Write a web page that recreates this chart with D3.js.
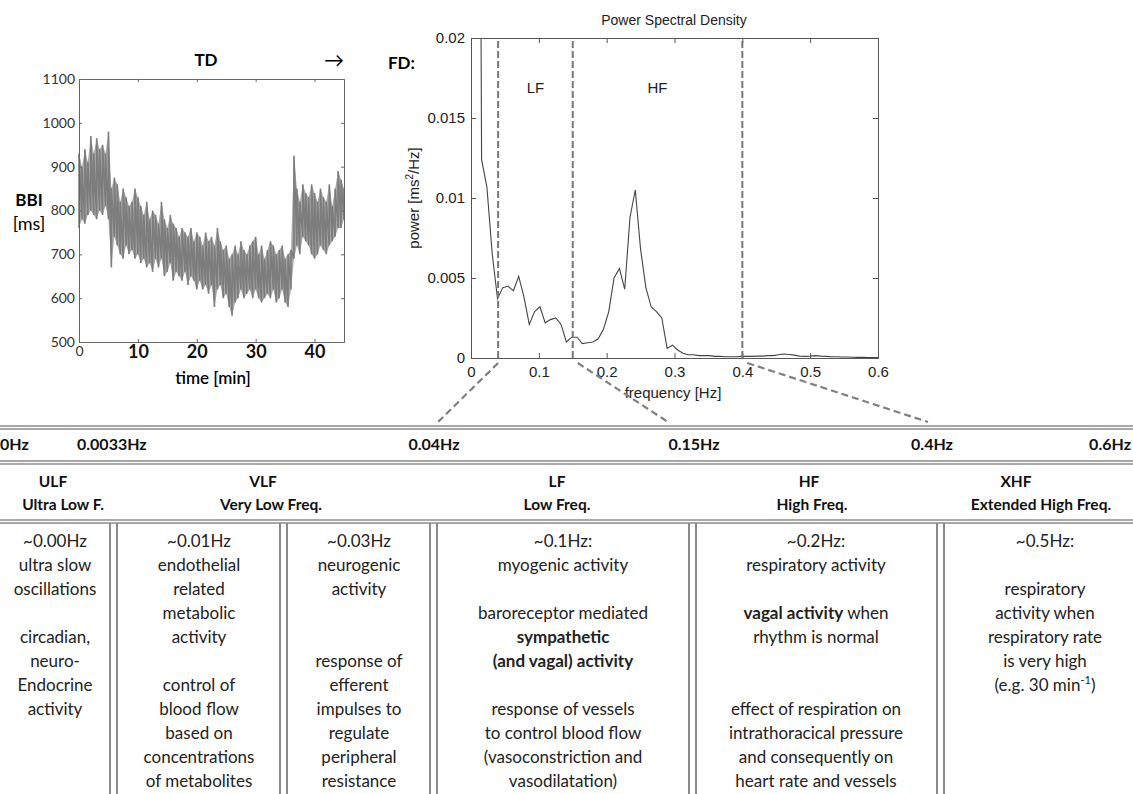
<!DOCTYPE html>
<html>
<head>
<meta charset="utf-8">
<script src="https://cdn.jsdelivr.net/npm/d3@7.9.0/dist/d3.min.js"></script>
<style>
  body { margin: 0; background: #fff; }
  svg { display: block; }
  .cal { font-family: Lato, "Open Sans", sans-serif; }
  .arial { font-family: "Liberation Sans", Arial, sans-serif; }
</style>
</head>
<body>
<svg id="chart" width="1133" height="794"></svg>
<script>
// ---- Time domain (BBI) data: min / max per half minute ----
const bbiTime = [0,0.5,1,1.5,2,2.5,3,3.5,4,4.5,5,5.5,6,6.5,7,7.5,8,8.5,9,9.5,10,10.5,11,11.5,12,12.5,13,13.5,14,14.5,
  15,15.5,16,16.5,17,17.5,18,18.5,19,19.5,20,20.5,21,21.5,22,22.5,23,23.5,24,24.5,25,25.5,26,26.5,27,27.5,28,28.5,29,29.5,
  30,30.5,31,31.5,32,32.5,33,33.5,34,34.5,35,35.5,36,36.5,37,37.5,38,38.5,39,39.5,40,40.5,41,41.5,42,42.5,43,43.5,44,44.5,45];
const bbiHigh = [930,900,940,910,970,930,965,940,950,930,980,850,875,860,820,850,830,810,820,850,830,810,790,820,780,800,790,770,820,780,
  760,790,770,760,740,760,750,740,760,730,750,740,720,750,730,740,720,760,730,710,720,690,700,720,700,730,710,700,720,730,
  740,700,720,690,710,730,720,700,710,720,690,700,710,925,850,820,860,840,830,860,840,820,850,830,820,860,810,850,890,870,850];
const bbiLow = [760,780,770,790,800,790,780,800,790,810,780,670,740,720,700,690,720,700,710,690,700,680,690,670,680,660,690,670,690,650,
  660,680,640,660,650,640,660,630,650,640,620,640,620,630,610,630,580,620,630,600,610,580,560,590,600,620,600,610,620,600,
  620,600,590,600,610,600,620,590,600,620,590,580,620,690,720,700,740,730,720,700,690,700,720,710,700,720,730,740,760,760,780];

// ---- Power spectral density ----
const psdFreq = [0.0078,0.0156,0.0234,0.0313,0.0391,0.0469,0.0547,0.0625,0.0703,0.0781,0.0859,0.0938,0.1016,0.1094,0.1172,0.125,
  0.1328,0.1406,0.1484,0.1563,0.1641,0.1719,0.1797,0.1875,0.1953,0.2031,0.2109,0.2188,0.2266,0.2344,0.2422,0.25,
  0.2578,0.2656,0.2734,0.2813,0.2891,0.2969,0.3047,0.3125,0.3203,0.3281,0.3359,0.3438,0.3516,0.3594,0.3672,0.375,
  0.3828,0.3906,0.3984,0.4063,0.4141,0.4219,0.4297,0.4375,0.4453,0.4531,0.4609,0.4688,0.4766,0.4844,0.4922,0.5,
  0.5078,0.5156,0.5234,0.5313,0.5391,0.5469,0.5547,0.5625,0.5703,0.5781,0.5859,0.5938,0.6016];
const psdPower = [0.09,0.0124,0.0107,0.0065,0.0037,0.0044,0.0045,0.0042,0.0051,0.0038,0.0021,0.0029,0.0032,0.0022,0.0024,0.0025,
  0.0021,0.0010,0.0013,0.0013,0.0009,0.00095,0.0010,0.0012,0.0018,0.0029,0.0050,0.0056,0.0043,0.0088,0.0105,0.0068,
  0.0044,0.0032,0.0029,0.0025,0.0006,0.0008,0.0005,0.0003,0.0002,0.0002,0.00015,0.00015,0.00015,0.0001,0.0001,0.00008,
  0.00008,0.00008,0.0001,0.0001,0.0001,0.00012,0.00012,0.00015,0.00015,0.0002,0.00025,0.00022,0.00018,0.00012,0.0001,0.00012,
  0.00015,0.00012,0.0001,0.00008,0.00008,0.00006,0.00006,0.00005,0.00004,0.00004,0.00003,0.00003,0.00003];
const bandLimits = [0.04, 0.15, 0.4];           // dashed lines in the PSD
const psdBandLabels = [["LF", 0.095], ["HF", 0.275]];

// ---- Table contents ----
const edgeLabels = ["0Hz", "0.0033Hz", "0.04Hz", "0.15Hz", "0.4Hz", "0.6Hz"];
const bandNames = ["ULF", "VLF", "LF", "HF", "XHF"];
const bandLongNames = ["Ultra Low F.", "Very Low Freq.", "Low Freq.", "High Freq.", "Extended High Freq."];
const ulfText = ["~0.00Hz", "ultra slow", "oscillations", "", "circadian,", "neuro-", "Endocrine", "activity"];
const vlfEndoText = ["~0.01Hz", "endothelial", "related", "metabolic", "activity", "", "control of", "blood flow",
  "based on", "concentrations", "of metabolites"];
const vlfNeuroText = ["~0.03Hz", "neurogenic", "activity", "", "", "response of", "efferent", "impulses to",
  "regulate", "peripheral", "resistance"];
const lfText = ["~0.1Hz:", "myogenic activity", "", "baroreceptor mediated", "**sympathetic**",
  "**(and vagal) activity**", "", "response of vessels", "to control blood flow", "(vasoconstriction and", "vasodilatation)"];
const hfText = ["~0.2Hz:", "respiratory activity", "", "**vagal activity** when", "rhythm is normal", "", "", "effect of respiration on",
  "intrathoracical pressure", "and consequently on", "heart rate and vessels"];
const xhfText = ["~0.5Hz:", "", "respiratory", "activity when", "respiratory rate", "is very high", "(e.g. 30 min^-1)"];
const cellTexts = [ulfText, vlfEndoText, vlfNeuroText, lfText, hfText, xhfText];

const svg = d3.select("#chart");
const grey = "#8a8a8a";

// ================= TD plot =================
const tdX = d3.scaleLinear().domain([0, 45]).range([79, 344]);
const tdY = d3.scaleLinear().domain([500, 1100]).range([342, 79]);
const td = svg.append("g").attr("class", "cal");

// light envelope between min and max, then a darker zig-zag for the beat-to-beat trace
td.append("path")
  .datum(bbiTime.map((t, i) => [t, bbiLow[i], bbiHigh[i]]))
  .attr("d", d3.area().x(d => tdX(d[0])).y0(d => tdY(d[1])).y1(d => tdY(d[2])))
  .attr("fill", "#a9a9a9");
let zig = "";
bbiTime.forEach((t, i) => {
  zig += (i === 0 ? "M" : "L") + tdX(t) + "," + tdY(bbiLow[i]) + "L" + tdX(t) + "," + tdY(bbiHigh[i]);
});
td.append("path").attr("d", zig).attr("fill", "none").attr("stroke", "#7d7d7d").attr("stroke-width", 1.6);

td.append("g").attr("transform", `translate(${tdX(0)},0)`)
  .call(d3.axisLeft(tdY).tickValues([500,600,700,800,900,1000,1100]).tickSize(-3).tickPadding(4).tickFormat(String))
  .call(g => g.selectAll("text").attr("font-size", 14).attr("fill", "#333").attr("font-family", "Lato"));
td.append("g").attr("transform", `translate(${tdX(45)},0)`)
  .call(d3.axisRight(tdY).tickValues([500,600,700,800,900,1000,1100]).tickSize(-3).tickFormat(""));
td.append("g").attr("transform", `translate(0,${tdY(1100)})`)
  .call(d3.axisTop(tdX).tickValues([0,10,20,30,40]).tickSize(-3).tickFormat(""));
td.append("g").attr("transform", `translate(0,${tdY(500)})`)
  .call(d3.axisBottom(tdX).tickValues([0,10,20,30,40]).tickSize(-3).tickPadding(3))
  .call(g => g.selectAll("text")
    .attr("font-family", "Lato")
    .attr("font-size", d => d === 0 ? 14 : 18)
    .attr("font-weight", d => d === 0 ? "normal" : "bold")
    .attr("fill", d => d === 0 ? "#333" : "#111")
    .attr("dy", d => d === 0 ? "0.75em" : "0.72em"));
td.selectAll(".domain").attr("stroke", "#666");
td.selectAll(".tick line").attr("stroke", "#666");

td.append("text").attr("x", 206).attr("y", 66).attr("text-anchor", "middle")
  .attr("font-size", 17).attr("font-weight", "bold").text("TD");
td.append("text").attr("x", 334).attr("y", 67).attr("text-anchor", "middle")
  .attr("font-size", 20).text("\u2192");
td.append("text").attr("x", 29).attr("y", 206).attr("text-anchor", "middle")
  .attr("font-size", 17).attr("font-weight", "bold").text("BBI");
td.append("text").attr("x", 29).attr("y", 230).attr("text-anchor", "middle")
  .attr("font-size", 18).text("[ms]");
td.append("text").attr("x", 213).attr("y", 384).attr("text-anchor", "middle")
  .attr("font-size", 17).attr("font-weight", 600).text("time [min]");

// ================= PSD plot =================
const psdX = d3.scaleLinear().domain([0, 0.6]).range([471, 878]);
const psdY = d3.scaleLinear().domain([0, 0.02]).range([358, 38]);
const fd = svg.append("g").attr("class", "arial");

svg.append("defs").append("clipPath").attr("id", "psdClip")
  .append("rect").attr("x", psdX(0)).attr("y", psdY(0.02))
  .attr("width", psdX(0.6) - psdX(0)).attr("height", psdY(0) - psdY(0.02));

fd.append("g").attr("clip-path", "url(#psdClip)")
  .append("path")
  .datum(psdFreq.map((f, i) => [f, psdPower[i]]))
  .attr("d", d3.line().x(d => psdX(d[0])).y(d => psdY(d[1])))
  .attr("fill", "none").attr("stroke", "#444").attr("stroke-width", 1.1);

const yVals = [0, 0.005, 0.01, 0.015, 0.02];
const xVals = [0, 0.1, 0.2, 0.3, 0.4, 0.5, 0.6];
fd.append("g").attr("transform", `translate(${psdX(0)},0)`)
  .call(d3.axisLeft(psdY).tickValues(yVals).tickSize(-5).tickPadding(6).tickFormat(String));
fd.append("g").attr("transform", `translate(${psdX(0.6)},0)`)
  .call(d3.axisRight(psdY).tickValues(yVals).tickSize(-5).tickFormat(""));
fd.append("g").attr("transform", `translate(0,${psdY(0)})`)
  .call(d3.axisBottom(psdX).tickValues(xVals).tickSize(-5).tickPadding(8).tickFormat(String));
fd.append("g").attr("transform", `translate(0,${psdY(0.02)})`)
  .call(d3.axisTop(psdX).tickValues(xVals).tickSize(-5).tickFormat(""));
fd.selectAll(".domain").attr("stroke", "#555");
fd.selectAll(".tick line").attr("stroke", "#555");
fd.selectAll(".tick text").attr("font-size", 15).attr("fill", "#222").attr("font-family", "Liberation Sans, Arial");

// band limits
fd.selectAll(".band-line").data(bandLimits).enter().append("line")
  .attr("x1", d => psdX(d)).attr("x2", d => psdX(d))
  .attr("y1", psdY(0)).attr("y2", psdY(0.02))
  .attr("stroke", "#777").attr("stroke-width", 2).attr("stroke-dasharray", "7,3");

fd.selectAll(".band-label").data(psdBandLabels).enter().append("text")
  .attr("x", d => psdX(d[1])).attr("y", 93).attr("text-anchor", "middle")
  .attr("font-size", 15).attr("fill", "#222").text(d => d[0]);

fd.append("text").attr("x", 674).attr("y", 25).attr("text-anchor", "middle")
  .attr("font-size", 14).attr("fill", "#222").text("Power Spectral Density");
fd.append("text").attr("x", 673).attr("y", 398).attr("text-anchor", "middle")
  .attr("font-size", 15).attr("fill", "#222").text("frequency [Hz]");
const yl = fd.append("text").attr("transform", "translate(419,198) rotate(-90)")
  .attr("text-anchor", "middle").attr("font-size", 15).attr("fill", "#222");
yl.append("tspan").text("power [ms");
yl.append("tspan").attr("font-size", 10).attr("dy", -6).text("2");
yl.append("tspan").attr("dy", 6).text("/Hz]");

svg.append("text").attr("class", "cal").attr("x", 388).attr("y", 69)
  .attr("font-size", 17).attr("font-weight", "bold").text("FD:");

// dashed connectors from the PSD band limits down to the table
const connectorEnds = [438, 668, 928];
const connectorShift = [0, 5, 5];
svg.selectAll(".connector").data(bandLimits).enter().append("line")
  .attr("x1", (d, i) => psdX(d) + connectorShift[i]).attr("y1", 363)
  .attr("x2", (d, i) => connectorEnds[i]).attr("y2", 422)
  .attr("stroke", "#808080").attr("stroke-width", 2.2).attr("stroke-dasharray", "7,4");

// ================= Table =================
const tbl = svg.append("g").attr("class", "cal");
const hRules = [426, 461, 520];
hRules.forEach(y => {
  [0, 3].forEach(o => tbl.append("line").attr("x1", 0).attr("x2", 1133)
    .attr("y1", y + o).attr("y2", y + o).attr("stroke", grey).attr("stroke-width", 1.5));
});
const vRules = [110, 280, 430, 689, 937];
vRules.forEach(x => {
  [0, 7].forEach(o => tbl.append("line").attr("x1", x + o).attr("x2", x + o)
    .attr("y1", 523).attr("y2", 794).attr("stroke", grey).attr("stroke-width", 2));
});

const edgeX = [0, 77, 434, 694, 932, 1131];
const edgeAnchor = ["start", "start", "middle", "middle", "middle", "end"];
tbl.selectAll(".edge").data(edgeLabels).enter().append("text")
  .attr("x", (d, i) => edgeX[i]).attr("y", 450).attr("text-anchor", (d, i) => edgeAnchor[i])
  .attr("font-size", 16).attr("font-weight", "bold").attr("fill", "#111").text(d => d);

const nameX = [53, 263, 557, 809, 1016];
const longX = [63, 271, 557, 812, 1041];
tbl.selectAll(".bname").data(bandNames).enter().append("text")
  .attr("x", (d, i) => nameX[i]).attr("y", 487).attr("text-anchor", "middle")
  .attr("font-size", 15.5).attr("font-weight", "bold").attr("fill", "#111").text(d => d);
tbl.selectAll(".blong").data(bandLongNames).enter().append("text")
  .attr("x", (d, i) => longX[i]).attr("y", 510).attr("text-anchor", "middle")
  .attr("font-size", 15.5).attr("font-weight", "bold").attr("fill", "#111").text(d => d);

// body cells: **bold** and ^-1 superscript markup
const cellX = [55, 199, 359, 563, 816, 1045];
function richLine(sel, str) {
  let shifted = false;
  str.split(/(\*\*[^*]+\*\*|\^-1)/).forEach(part => {
    if (!part) return;
    const t = sel.append("tspan");
    if (part.startsWith("**")) {
      t.attr("font-weight", "bold").text(part.slice(2, -2));
    } else if (part === "^-1") {
      t.attr("font-size", 11).attr("dy", -7).text("-1");
      shifted = true;
    } else {
      if (shifted) { t.attr("dy", 7); shifted = false; }
      t.text(part);
    }
  });
}
cellTexts.forEach((lines, c) => {
  lines.forEach((line, r) => {
    if (!line) return;
    const t = tbl.append("text").attr("x", cellX[c]).attr("y", 547 + r * 24)
      .attr("text-anchor", "middle").attr("font-size", 17).attr("fill", "#222");
    richLine(t, line);
  });
});
</script>
</body>
</html>
